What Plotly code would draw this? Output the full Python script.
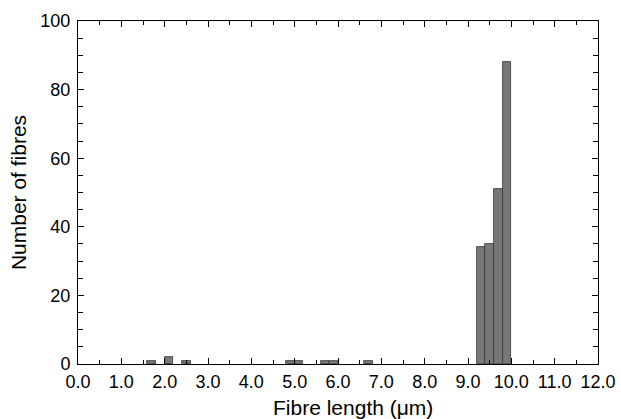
import plotly.graph_objects as go

# Histogram data: bin start (µm), bin width 0.2 µm, counts
bin_start = [1.6, 2.0, 2.4, 4.8, 5.0, 5.6, 5.8, 6.6, 9.2, 9.4, 9.6, 9.8]
counts = [1, 2, 1, 1, 1, 1, 1, 1, 34, 35, 51, 88]
bin_width = 0.2

x_ticks = [0, 1, 2, 3, 4, 5, 6, 7, 8, 9, 10, 11, 12]
x_tick_labels = ["%.1f" % v for v in x_ticks]
y_ticks = [0, 20, 40, 60, 80, 100]

fig = go.Figure()
fig.add_trace(go.Bar(
    x=bin_start, y=counts, width=[bin_width] * len(bin_start), offset=0,
    marker=dict(color="#787878", line=dict(color="#333333", width=0.8)),
))

font = "Liberation Sans, Arial, Helvetica, sans-serif"
fig.update_layout(
    width=621, height=419,
    margin=dict(l=78, r=23, t=21, b=55, autoexpand=False),
    plot_bgcolor="white", paper_bgcolor="white",
    showlegend=False, bargap=0,
    font=dict(family=font, color="black", size=18),
    annotations=[dict(
        text="Fibre length (μm)", xref="paper", yref="paper",
        x=0.529, y=-0.128, xanchor="center", yanchor="middle",
        showarrow=False, font=dict(size=21),
    )],
)
fig.update_xaxes(
    range=[0, 12], tickvals=x_ticks, ticktext=x_tick_labels,
    ticks="inside", ticklen=6, tickwidth=1, tickcolor="black",
    minor=dict(dtick=0.5, tick0=0, ticks="inside", ticklen=4, tickcolor="black", tickwidth=1),
    showline=True, linecolor="black", linewidth=1, mirror="ticks",
    showgrid=False, zeroline=False, automargin=False,
    tickfont=dict(size=18), ticklabelstandoff=1,
)
fig.update_yaxes(
    range=[0, 100], tickvals=y_ticks,
    ticks="inside", ticklen=6, tickwidth=1, tickcolor="black",
    minor=dict(dtick=5, tick0=0, ticks="inside", ticklen=5, tickcolor="black", tickwidth=1),
    showline=True, linecolor="black", linewidth=1, mirror="ticks",
    showgrid=False, zeroline=False, automargin=False,
    tickfont=dict(size=18), ticklabelstandoff=3,
    title=dict(text="Number of fibres", font=dict(size=21), standoff=8),
)
fig.write_html("out.html", config={"displayModeBar": False},
               post_script="document.body.style.margin='0px';")
